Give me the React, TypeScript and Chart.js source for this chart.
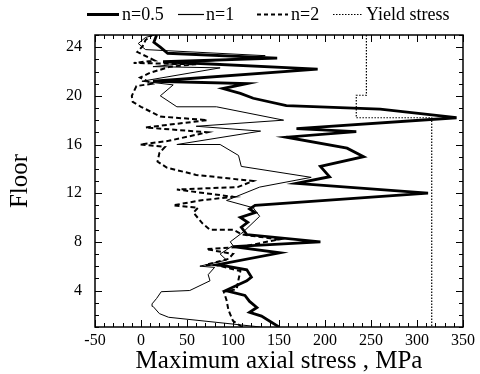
import React, { useEffect, useRef } from 'react';
import Chart from 'chart.js/auto';

// ---- axis ticks / labels ----
const X_TICKS = [-50, 0, 50, 100, 150, 200, 250, 300, 350];
const Y_TICKS = [4, 8, 12, 16, 20, 24];
const X_TITLE = 'Maximum axial stress , MPa';
const Y_TITLE = 'Floor';
const LEGEND_LABELS = ['n=0.5', 'n=1', 'n=2', 'Yield stress'];

// ---- n=0.5 (thick) ----
const n05Stress = [150, 131, 118, 126, 118, 113, 92, 115, 120, 115, 93, 82, 151, 100, 195, 115, 109, 116, 108, 124, 118, 124, 312, 169, 205, 195, 242, 224, 158, 234, 169, 343, 260, 158, 122, 108, 89, 115, 13, 192, 24, 148, 29, 21, 14, 17];
const n05Floor = [1.0, 1.9, 2.2, 2.6, 3.1, 3.6, 4.0, 4.8, 5.1, 5.7, 6.0, 6.1, 7.1, 7.6, 8.0, 8.6, 9.2, 9.6, 10.0, 10.4, 10.7, 11.0, 12.0, 12.8, 13.35, 14.2, 15.0, 15.7, 16.6, 17.05, 17.3, 18.2, 18.9, 19.2, 19.8, 20.2, 20.6, 21.0, 21.2, 22.2, 22.8, 23.1, 23.5, 24.0, 24.4, 25.0];

// ---- n=1 (thin) ----
const n1Stress = [130, 30, 20, 13, 12, 17, 22, 53, 75, 73, 80, 64, 93, 86, 100, 97, 111, 129, 122, 93, 129, 185, 109, 106, 86, 39, 130, 60, 155, 82, 39, 21, 35, 1, 86, 13, 135, 5, -3, 5, 15];
const n1Floor = [1.0, 1.8, 2.1, 2.7, 2.9, 3.35, 3.9, 4.0, 4.8, 5.3, 5.9, 6.0, 6.5, 7.0, 7.7, 8.0, 8.8, 10.1, 10.8, 11.4, 12.5, 13.3, 14.2, 15.1, 16.0, 16.0, 17.1, 17.5, 18.0, 19.1, 19.1, 20.0, 20.9, 21.2, 22.3, 22.4, 23.3, 23.8, 24.3, 24.8, 25.0];

// ---- n=2 (dashed) ----
const n2Stress = [110, 100, 95, 93, 90, 104, 106, 108, 82, 70, 95, 100, 71, 110, 150, 110, 100, 75, 67, 57, 62, 35, 64, 100, 39, 105, 122, 60, 28, 18, 20, 26, -1, 30, 72, 5, 72, 21, 0, -9, -10, -5, 12, -1, 10, 32, 60, -8, 15, -4, 2, 5, 12];
const n2Floor = [1.0, 1.5, 2.4, 3.2, 3.9, 4.1, 4.9, 5.6, 6.1, 6.1, 6.6, 7.0, 7.4, 7.6, 8.2, 8.6, 9.0, 9.0, 9.5, 10.4, 10.8, 11.0, 11.4, 11.7, 12.3, 12.5, 13.0, 13.5, 14.1, 14.6, 15.3, 15.8, 16.0, 16.3, 17.0, 17.4, 18.0, 18.3, 19.1, 19.5, 20.0, 20.8, 21.0, 21.5, 21.9, 22.4, 22.6, 22.7, 22.9, 23.6, 24.1, 24.6, 25.0];

// ---- yield stress (dotted) ----
const yieldStress = [245, 245, 234, 234, 316, 316];
const yieldFloor = [25, 20.05, 20.05, 18.2, 18.2, 1];

const SERIF = "'Liberation Serif', 'DejaVu Serif', serif";

const zip = (xs: number[], ys: number[]) => xs.map((x, i) => ({ x, y: ys[i] }));

const framePlugin = {
  id: 'frameTicks',
  afterDraw(chart: any) {
    const { ctx, chartArea, scales } = chart;
    const { left, right, top, bottom } = chartArea;
    const xs = scales.x;
    const ys = scales.y;
    ctx.save();
    ctx.strokeStyle = '#000';
    ctx.lineWidth = 1.5;
    ctx.setLineDash([]);
    ctx.strokeRect(left, top, right - left, bottom - top);
    ctx.lineWidth = 1;
    ctx.beginPath();
    for (let i = -5; i <= 35; i++) {
      const v = i * 10;
      const px = Math.round(xs.getPixelForValue(v)) + 0.5;
      const len = i % 5 === 0 ? 7 : 4;
      ctx.moveTo(px, bottom);
      ctx.lineTo(px, bottom - len);
      ctx.moveTo(px, top);
      ctx.lineTo(px, top + len);
    }
    for (let f = 1; f <= 25; f++) {
      const py = Math.round(ys.getPixelForValue(f)) + 0.5;
      const len = f % 4 === 0 ? 7 : 4;
      ctx.moveTo(left, py);
      ctx.lineTo(left + len, py);
      ctx.moveTo(right, py);
      ctx.lineTo(right - len, py);
    }
    ctx.stroke();

    // legend
    const ly = 14.5;
    const items = [
      { x1: 87, x2: 119, tx: 122, w: 3, dash: [] as number[] },
      { x1: 178, x2: 204, tx: 206, w: 1.2, dash: [] as number[] },
      { x1: 257, x2: 288, tx: 291, w: 2, dash: [4, 3] },
      { x1: 333, x2: 362, tx: 366, w: 1.2, dash: [1.5, 1.5] },
    ];
    ctx.font = `18px ${SERIF}`;
    ctx.fillStyle = '#000';
    ctx.textBaseline = 'middle';
    ctx.textAlign = 'left';
    items.forEach((it, i) => {
      ctx.beginPath();
      ctx.lineWidth = it.w;
      ctx.setLineDash(it.dash);
      ctx.moveTo(it.x1, ly);
      ctx.lineTo(it.x2, ly);
      ctx.stroke();
      ctx.fillText(LEGEND_LABELS[i], it.tx, ly + 1);
    });
    ctx.restore();
  },
};

export default function App() {
  const ref = useRef<HTMLCanvasElement>(null);
  useEffect(() => {
    if (!ref.current) return;
    const common = { pointRadius: 0, showLine: true, fill: false, tension: 0, borderColor: '#000', backgroundColor: '#000' };
    const chart = new Chart(ref.current, {
      type: 'scatter',
      data: {
        datasets: [
          { ...common, label: LEGEND_LABELS[0], data: zip(n05Stress, n05Floor), borderWidth: 2.8 },
          { ...common, label: LEGEND_LABELS[1], data: zip(n1Stress, n1Floor), borderWidth: 1 },
          { ...common, label: LEGEND_LABELS[2], data: zip(n2Stress, n2Floor), borderWidth: 2, borderDash: [5, 3] },
          { ...common, label: LEGEND_LABELS[3], data: zip(yieldStress, yieldFloor), borderWidth: 1.2, borderDash: [1.5, 1.5] },
        ],
      },
      options: {
        responsive: false,
        animation: false,
        events: [],
        layout: { padding: { top: 35, right: 17, left: 0, bottom: 0 } },
        plugins: { legend: { display: false }, tooltip: { enabled: false } },
        scales: {
          x: {
            type: 'linear',
            min: -50,
            max: 350,
            afterBuildTicks: (s: any) => { s.ticks = X_TICKS.map((v) => ({ value: v })); },
            afterFit: (s: any) => { s.height = 47; },
            grid: { display: false, drawTicks: false },
            border: { display: false },
            ticks: { color: '#000', font: { family: SERIF, size: 16 }, padding: 4, maxRotation: 0, autoSkip: false },
            title: { display: true, text: X_TITLE, color: '#000', font: { family: SERIF, size: 25, lineHeight: 1 }, padding: 0 },
          },
          y: {
            type: 'linear',
            min: 1,
            max: 25,
            afterBuildTicks: (s: any) => { s.ticks = Y_TICKS.map((v) => ({ value: v })); },
            afterFit: (s: any) => { s.width = 95; },
            grid: { display: false, drawTicks: false },
            border: { display: false },
            ticks: { color: '#000', font: { family: SERIF, size: 16 }, padding: 13, autoSkip: false },
            title: { display: true, text: Y_TITLE, color: '#000', font: { family: SERIF, size: 25, lineHeight: 1 }, padding: { top: 8, bottom: 0 } },
          },
        },
      },
      plugins: [framePlugin],
    });
    return () => chart.destroy();
  }, []);
  return (
    <div style={{ position: 'fixed', left: 0, top: 0, width: 480, height: 374, background: '#fff' }}>
      <canvas ref={ref} width={480} height={374} style={{ display: 'block', width: 480, height: 374 }} />
    </div>
  );
}
